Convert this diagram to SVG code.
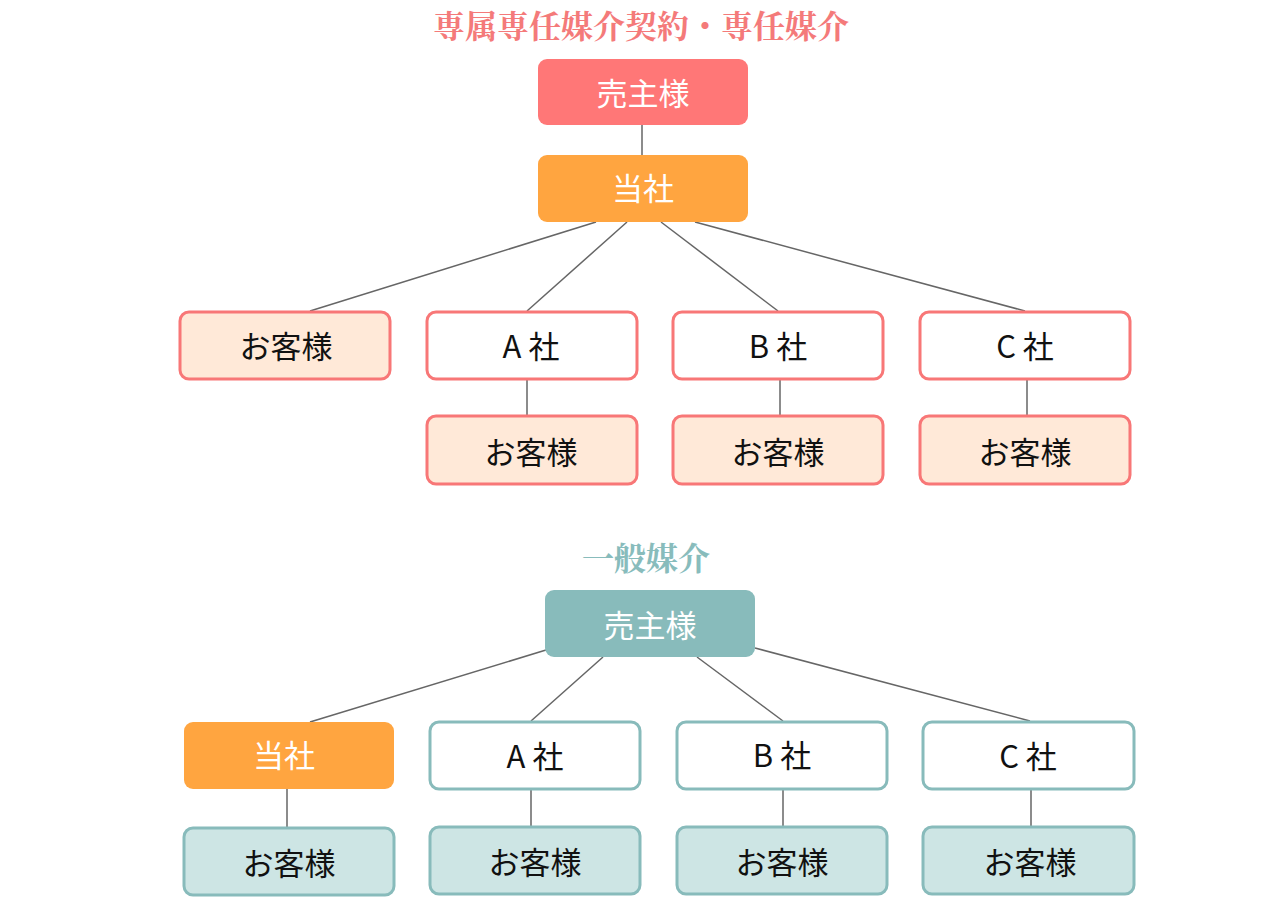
<svg xmlns="http://www.w3.org/2000/svg" width="1280" height="905" viewBox="0 0 1280 905">
<style>
.title{font-family:"Noto Serif CJK JP","Noto Sans CJK JP",serif;font-weight:bold;font-size:32px;text-anchor:middle}
.lbl{font-family:"Noto Sans CJK JP",sans-serif;font-size:31px;text-anchor:middle;dominant-baseline:central}
.w{fill:#ffffff}
.k{fill:#111111}
.ln{stroke:#666666;stroke-width:1.5;fill:none}
.pk{fill:#ff7777}
.or{fill:#ffa540}
.peach{fill:#ffe9d8;stroke:#f87777;stroke-width:3}
.pw{fill:#ffffff;stroke:#f87777;stroke-width:3}
.teal{fill:#88bbbb}
.tl{fill:#cde5e4;stroke:#88bbbb;stroke-width:3}
.tw{fill:#ffffff;stroke:#88bbbb;stroke-width:3}
</style>
<rect width="1280" height="905" fill="#ffffff"/>
<text class="title" x="641" y="38" fill="#f47a7a">専属専任媒介契約・専任媒介</text>
<text class="title" x="646" y="570" fill="#88bcbc">一般媒介</text>
<g id="connectors">
<line class="ln" x1="642" y1="125" x2="642" y2="155"/>
<line class="ln" x1="596" y1="222" x2="310" y2="311"/>
<line class="ln" x1="627" y1="222" x2="527" y2="311"/>
<line class="ln" x1="661" y1="222" x2="778" y2="311"/>
<line class="ln" x1="695" y1="222" x2="1025" y2="311"/>
<line class="ln" x1="527" y1="379" x2="527" y2="416"/>
<line class="ln" x1="780" y1="379" x2="780" y2="416"/>
<line class="ln" x1="1027" y1="379" x2="1027" y2="416"/>
<line class="ln" x1="546" y1="650" x2="310" y2="722"/>
<line class="ln" x1="603" y1="657" x2="531" y2="721"/>
<line class="ln" x1="697" y1="657" x2="783" y2="721"/>
<line class="ln" x1="755" y1="648" x2="1030" y2="721"/>
<line class="ln" x1="287" y1="789" x2="287" y2="828"/>
<line class="ln" x1="531" y1="789" x2="531" y2="827"/>
<line class="ln" x1="783" y1="789" x2="783" y2="827"/>
<line class="ln" x1="1031" y1="789" x2="1031" y2="827"/>
</g>
<g id="t-seller"><rect class="pk" x="538" y="59" width="210" height="66" rx="9"/><text class="lbl w" x="643" y="91">売主様</text></g>
<g id="t-self"><rect class="or" x="538" y="155" width="210" height="67" rx="9"/><text class="lbl w" x="643" y="186">当社</text></g>
<g id="t-cust0"><rect class="peach" x="180" y="312" width="210" height="67" rx="9"/><text class="lbl k" x="286" y="344">お客様</text></g>
<g id="t-a"><rect class="pw" x="427" y="312" width="210" height="67" rx="9"/><text class="lbl k" x="531" y="344">A 社</text></g>
<g id="t-b"><rect class="pw" x="673" y="312" width="210" height="67" rx="9"/><text class="lbl k" x="778" y="344">B 社</text></g>
<g id="t-c"><rect class="pw" x="920" y="312" width="210" height="67" rx="9"/><text class="lbl k" x="1025" y="344">C 社</text></g>
<g id="t-custa"><rect class="peach" x="427" y="416" width="210" height="68" rx="9"/><text class="lbl k" x="531" y="450">お客様</text></g>
<g id="t-custb"><rect class="peach" x="673" y="416" width="210" height="68" rx="9"/><text class="lbl k" x="778" y="450">お客様</text></g>
<g id="t-custc"><rect class="peach" x="920" y="416" width="210" height="68" rx="9"/><text class="lbl k" x="1025" y="450">お客様</text></g>
<g id="g-seller"><rect class="teal" x="545" y="590" width="210" height="67" rx="9"/><text class="lbl w" x="650" y="623">売主様</text></g>
<g id="g-self"><rect class="or" x="184" y="722" width="210" height="67" rx="9"/><text class="lbl w" x="284" y="753">当社</text></g>
<g id="g-a"><rect class="tw" x="430" y="722" width="210" height="67" rx="9"/><text class="lbl k" x="535" y="754">A 社</text></g>
<g id="g-b"><rect class="tw" x="677" y="722" width="210" height="67" rx="9"/><text class="lbl k" x="782" y="753">B 社</text></g>
<g id="g-c"><rect class="tw" x="923" y="722" width="211" height="67" rx="9"/><text class="lbl k" x="1028" y="754">C 社</text></g>
<g id="g-cust0"><rect class="tl" x="184" y="828" width="210" height="67" rx="9"/><text class="lbl k" x="289" y="861">お客様</text></g>
<g id="g-custa"><rect class="tl" x="430" y="827" width="210" height="67" rx="9"/><text class="lbl k" x="535" y="860">お客様</text></g>
<g id="g-custb"><rect class="tl" x="677" y="827" width="210" height="67" rx="9"/><text class="lbl k" x="782" y="860">お客様</text></g>
<g id="g-custc"><rect class="tl" x="923" y="827" width="211" height="67" rx="9"/><text class="lbl k" x="1030" y="860">お客様</text></g>
</svg>
